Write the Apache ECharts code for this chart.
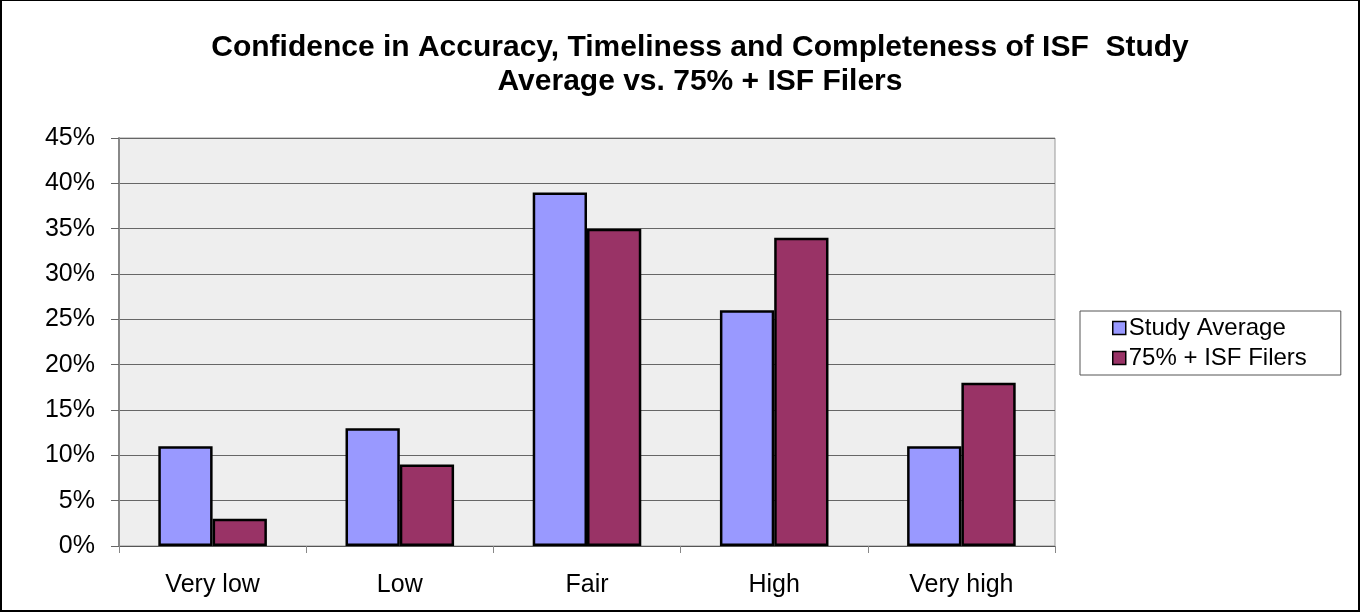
<!DOCTYPE html>
<html>
<head>
<meta charset="utf-8">
<script src="https://cdn.jsdelivr.net/npm/echarts@6/dist/echarts.min.js"></script>
<style>
  html, body { margin: 0; padding: 0; background: #fff; }
  #chart { width: 1361px; height: 613px; }
</style>
</head>
<body>
<div id="chart"></div>
<script>
const categories = ['Very low', 'Low', 'Fair', 'High', 'Very high'];
const studyAverage = [11, 13, 39, 26, 11];
const isfFilers = [3, 9, 35, 34, 18];
const seriesNames = ['Study Average', '75% + ISF Filers'];

const chart = echarts.init(document.getElementById('chart'));

const option = {
  animation: false,
  backgroundColor: '#fff',
  textStyle: { fontFamily: 'Liberation Sans, Arial, sans-serif' },
  title: {
    text: 'Confidence in Accuracy, Timeliness and Completeness of ISF  Study\nAverage vs. 75% + ISF Filers',
    left: 695,
    textAlign: 'center',
    top: 26,
    textStyle: {
      fontSize: 30,
      fontWeight: 'bold',
      color: '#000',
      lineHeight: 34
    }
  },
  legend: {
    orient: 'vertical',
    left: 1080,
    top: 311,
    padding: [5, 34, 5, 32],
    itemGap: 6,
    itemWidth: 13,
    itemHeight: 13,
    icon: 'rect',
    borderColor: '#555',
    borderWidth: 1,
    itemStyle: { borderColor: '#000', borderWidth: 1.5 },
    textStyle: { fontSize: 24, color: '#000', padding: [0, 0, 0, -2] },
    data: seriesNames
  },
  grid: {
    left: 119,
    right: 306,
    top: 138,
    bottom: 67,
    show: true,
    backgroundColor: '#eeeeee',
    borderColor: '#999',
    borderWidth: 1
  },
  xAxis: {
    type: 'category',
    data: categories,
    axisLine: { lineStyle: { color: '#555', width: 1 } },
    axisTick: { show: true, length: 7, lineStyle: { color: '#888' } },
    axisLabel: { fontSize: 25, color: '#000', margin: 27 }
  },
  yAxis: {
    type: 'value',
    min: 0,
    max: 45,
    interval: 5,
    axisLine: { show: true, lineStyle: { color: '#888', width: 2 } },
    axisTick: { show: true, length: 8, lineStyle: { color: '#666' } },
    axisLabel: { fontSize: 25, color: '#000', margin: 24, formatter: '{value}%' },
    splitLine: { lineStyle: { color: '#666', width: 1 } }
  },
  series: [
    {
      name: seriesNames[0],
      type: 'bar',
      data: studyAverage,
      barGap: '0%',
      barCategoryGap: '42%',
      itemStyle: { color: '#9999ff', borderColor: '#000', borderWidth: 2.5 }
    },
    {
      name: seriesNames[1],
      type: 'bar',
      data: isfFilers,
      itemStyle: { color: '#993366', borderColor: '#000', borderWidth: 2.5 }
    }
  ],
  graphic: [
    {
      type: 'rect',
      shape: { x: 1, y: 0, width: 1358, height: 611 },
      style: { fill: 'none', stroke: '#000', lineWidth: 2 },
      silent: true
    }
  ]
};

chart.setOption(option);
</script>
</body>
</html>
